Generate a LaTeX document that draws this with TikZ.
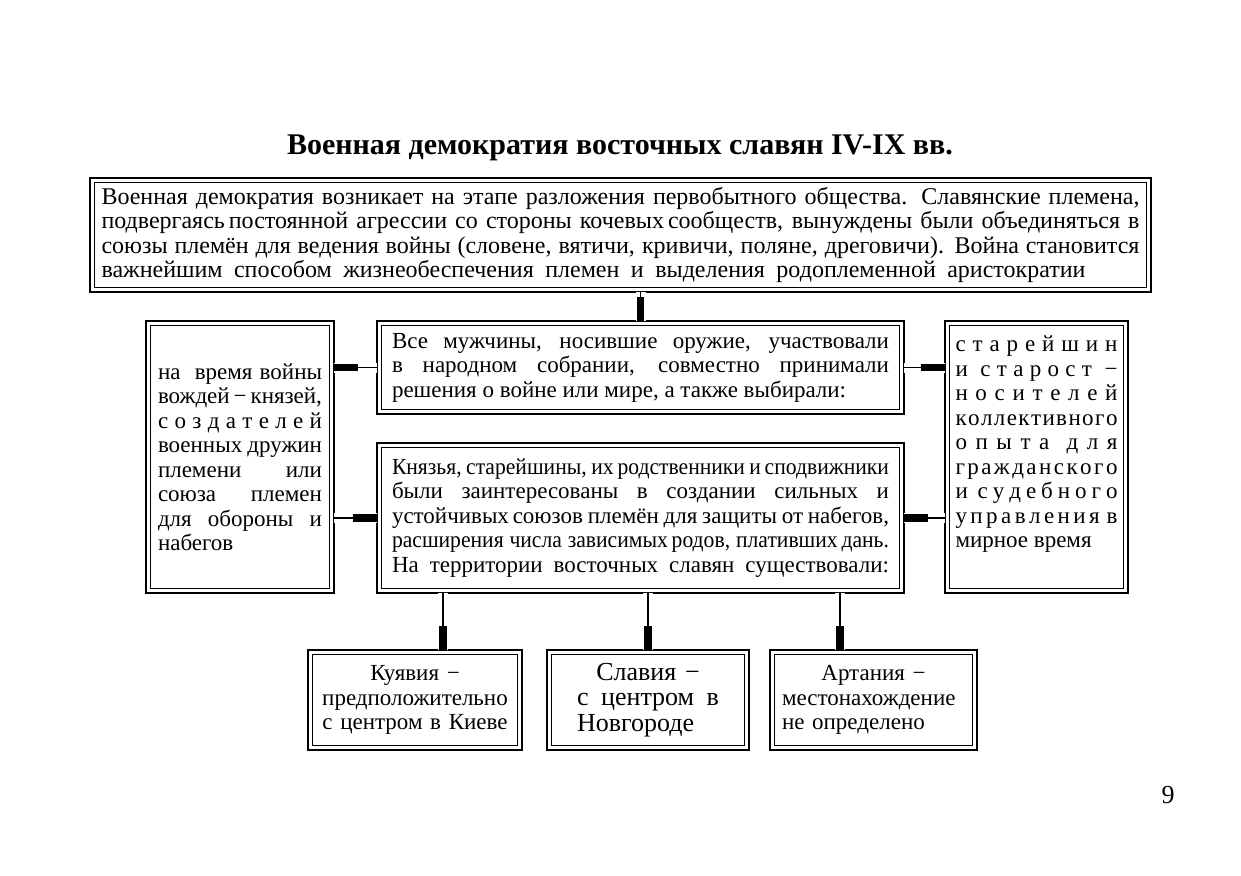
\documentclass[tikz,border=0pt]{standalone}
\usepackage{fontspec}
\setmainfont{Liberation Serif}
\newfontfamily\narrowfont[FakeStretch=0.94]{Liberation Serif}
\usetikzlibrary{arrows.meta}
\hyphenpenalty=10000
\exhyphenpenalty=10000
\tolerance=10000

\tikzset{
  frame/.style={draw, line width=1.4pt, outer sep=0pt, inner sep=0pt, align=justify,
    font=\fontsize{11.5}{12.25}\selectfont},
  spread/.style={execute at begin node={\spaceskip=0pt plus 1fil}},
  link/.style={line width=0.7pt,
    -{Rectangle[length=12pt,width=3.8pt]},
    preaction={draw=white, line width=5pt, -}}
}

\begin{document}
\begin{tikzpicture}[x=0.5pt, y=-0.5pt]
\useasboundingbox (0,0) rectangle (1241,875);

\node[font=\fontsize{15}{18}\selectfont\bfseries] (title) at (620,148)
  {Военная демократия восточных славян IV-IX вв.};

\node[frame, minimum width=530.5pt, minimum height=57pt, text width=519pt,
  font=\fontsize{12}{12.25}\selectfont] (top) at (620.5,235)
  {Военная демократия возникает на этапе разложения первобытного общества. Славянские племена,\linebreak
   подвергаясь\,постоянной агрессии со стороны кочевых\,сообществ, вынуждены были объединяться в\linebreak
   союзы племён для ведения войны (словене, вятичи, кривичи, поляне, дреговичи). Война становится\linebreak
   важнейшим способом жизнеобеспечения племен и выделения родоплеменной аристократии\parfillskip=27pt\par};

\node[frame, minimum width=263.5pt, minimum height=46.5pt, text width=248.5pt] (assembly) at (640.5,367.5)
  {Все мужчины, носившие оружие, участвовали\linebreak
   в народном собрании, совместно принимали\linebreak
   решения о войне или мире, а также выбирали:};

\node[frame, minimum width=263.5pt, minimum height=75pt, text width=248.5pt] (princes) at (640.5,518)
  {{\narrowfont Князья, старейшины, их\,родственники и\,сподвижники}\linebreak
   были заинтересованы в создании сильных и\linebreak
   устойчивых\,союзов племён для защиты от набегов,\linebreak
   {\narrowfont расширения числа зависимых\,родов, плативших\,дань.}\linebreak
   На территории восточных славян существовали:\parfillskip=0pt\par};

\node[frame, spread, minimum width=94pt, minimum height=136pt, text width=82pt] (leaders) at (240,457)
  {на \hfil время войны\linebreak
   вождей − князей,\linebreak
   с о з д а т е л е й\linebreak
   военных дружин\linebreak
   племени или\linebreak
   союза племен\linebreak
   для обороны и\linebreak
   набегов};

\node[frame, spread, minimum width=91.5pt, minimum height=136pt, text width=81pt] (elders) at (1036.5,457)
  {с т а р е й ш и н\linebreak
   и \hfil с т а р о с т \hfil −\linebreak
   н о с и т е л е й\linebreak
   к о л л е к т и в н о г о\linebreak
   о п ы т а \hfil д л я\linebreak
   г р а ж д а н с к о г о\linebreak
   и \hfil с у д е б н о г о\linebreak
   у п р а в л е н и я \hfil в\linebreak
   мирное\hspace{0.25em}время\par\vspace{3pt}\hbox{}};

\node[frame, align=center, minimum width=107pt, minimum height=50pt, text width=100pt] (kuyavia) at (415,700)
  {Куявия −\\ предположительно\\ с центром в Киеве};

\node[frame, align=left, minimum width=101pt, minimum height=50pt, text width=71pt,
  font=\fontsize{13}{12.75}\selectfont] (slavia) at (648,700)
  {\hfill Славия −\hfill\mbox{}\\ с\hfill центром\hfill в\\ Новгороде};

\node[frame, align=left, minimum width=103.5pt, minimum height=50pt, text width=91.5pt] (artania) at (873.5,700)
  {\hfill Артания −\hfill\mbox{}\\ местонахождение\\ не определено};

\node[font=\fontsize{13}{15}\selectfont] (page) at (1168,795) {9};

% inner lines of the frames
\foreach \b in {top,assembly,princes,leaders,elders,kuyavia,slavia,artania}
  \draw[line width=0.5pt] ([xshift=2.3pt,yshift=-2.3pt]\b.north west)
    rectangle ([xshift=-2.3pt,yshift=2.3pt]\b.south east);

\draw[link] (top.south -| assembly.north) -- (assembly.north);
\draw[link] (assembly.west) -- (assembly.west -| leaders.east);
\draw[link] (assembly.east) -- (assembly.east -| elders.west);
\draw[link] (princes.west -| leaders.east) -- (princes.west);
\draw[link] (princes.east -| elders.west) -- (princes.east);
\draw[link] ([xshift=-98.75pt]princes.south) coordinate (k0) -- (k0 |- kuyavia.north);
\draw[link] ([xshift=3.75pt]princes.south) coordinate (s0) -- (s0 |- slavia.north);
\draw[link] ([xshift=99.75pt]princes.south) coordinate (a0) -- (a0 |- artania.north);
\end{tikzpicture}
\end{document}
